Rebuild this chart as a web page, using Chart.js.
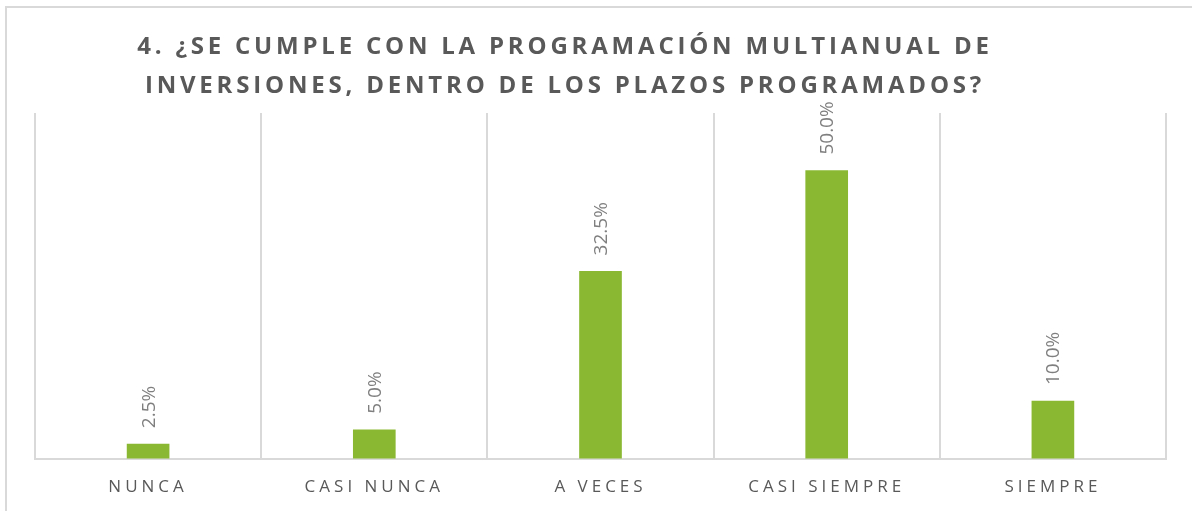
<!DOCTYPE html>
<html>
<head>
<meta charset="utf-8">
<script src="https://cdn.jsdelivr.net/npm/chart.js@4"></script>
<style>
  html, body { margin: 0; padding: 0; background: #fff; overflow: hidden; }
  #frame { position: absolute; left: 5px; top: 6px; width: 1300px; height: 700px;
           border-left: 2px solid #d9d9d9; border-top: 2px solid #d9d9d9; }
  #wrap { position: absolute; left: 0; top: 0; width: 1192px; height: 511px; }
</style>
</head>
<body>
<div id="frame"></div>
<div id="wrap"><canvas id="surveyChart"></canvas></div>
<script>
// ─── data ───
const titleLines = ['4. ¿SE CUMPLE CON LA PROGRAMACIÓN MULTIANUAL DE', 'INVERSIONES, DENTRO DE LOS PLAZOS PROGRAMADOS?'];
const categories = ['NUNCA', 'CASI NUNCA', 'A VECES', 'CASI SIEMPRE', 'SIEMPRE'];
const percents = [2.5, 5.0, 32.5, 50.0, 10.0];

const barGreen = '#8bb833';
const gridGray = '#d9d9d9';
const textGray = '#595959';
const labelGray = '#7f7f7f';
const family = '"Open Sans", "DejaVu Sans", sans-serif';

// title drawn by hand so it can be letter-spaced and sit left of centre
const titlePlugin = {
  id: 'spacedTitle',
  beforeDraw(chart) {
    const ctx = chart.ctx;
    ctx.save();
    ctx.letterSpacing = '3.8px';
    ctx.font = 'bold 24px ' + family;
    ctx.fillStyle = textGray;
    ctx.textAlign = 'center';
    ctx.textBaseline = 'alphabetic';
    titleLines.forEach((line, i) => ctx.fillText(line, 565, 54 + i * 38.5));
    ctx.restore();
    ctx.letterSpacing = '0px';
  }
};

// vertical value labels above each bar, then spacing for the x tick labels (drawn at z 1)
const valueLabels = {
  id: 'valueLabels',
  afterDatasetsDraw(chart) {
    const ctx = chart.ctx;
    ctx.letterSpacing = '0px';
    const meta = chart.getDatasetMeta(0);
    ctx.save();
    ctx.font = '19px ' + family;
    ctx.fillStyle = labelGray;
    ctx.textAlign = 'left';
    ctx.textBaseline = 'middle';
    meta.data.forEach((bar, i) => {
      ctx.save();
      ctx.translate(bar.x, bar.y - 16);
      ctx.rotate(-Math.PI / 2);
      ctx.fillText(percents[i].toFixed(1) + '%', 0, 1);
      ctx.restore();
    });
    ctx.restore();
    ctx.letterSpacing = '4px';
  },
  afterDraw(chart) { chart.ctx.letterSpacing = '0px'; }
};

new Chart(document.getElementById('surveyChart'), {
  type: 'bar',
  data: {
    labels: categories,
    datasets: [{ data: percents, backgroundColor: barGreen, barThickness: 42 }]
  },
  options: {
    responsive: true, maintainAspectRatio: false, animation: false,
    layout: { padding: { left: 35, right: 26, top: 113, bottom: -4 } },
    plugins: { legend: { display: false }, tooltip: { enabled: false }, title: { display: false } },
    scales: {
      x: {
        grid: { color: gridGray, lineWidth: 2, drawTicks: false, offset: true },
        border: { color: gridGray, width: 2 },
        ticks: { color: textGray, font: { family: family, size: 17 }, padding: 18,
                 maxRotation: 0, autoSkip: false, z: 1 }
      },
      y: { display: false, min: 0, max: 60 }
    }
  },
  plugins: [titlePlugin, valueLabels]
});
</script>
</body>
</html>
